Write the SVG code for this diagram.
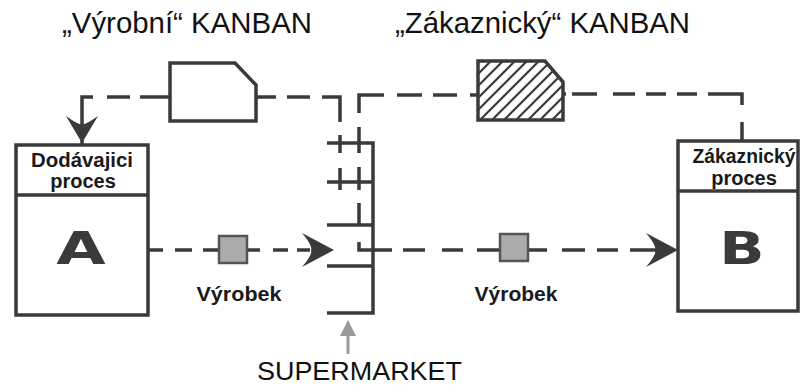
<svg xmlns="http://www.w3.org/2000/svg" width="801" height="387" viewBox="0 0 801 387">
<style>
.ln{fill:none;stroke:#3a3a3a;stroke-width:3.5;stroke-linecap:butt}
.box{fill:#fff;stroke:#3a3a3a;stroke-width:3.5}
.kb{stroke:#3a3a3a;stroke-width:3.5}
.ah{fill:#3a3a3a}
.ttl{font-family:"Liberation Sans",Arial,sans-serif;font-size:29px;fill:#111}
.hd{font-family:"Liberation Sans",Arial,sans-serif;font-size:20px;font-weight:bold;fill:#1a1a1a;text-anchor:middle}
.big{font-family:"DejaVu Sans",sans-serif;font-size:44px;font-weight:bold;fill:#3a3a3a;text-anchor:middle}
.lbl{font-family:"Liberation Sans",Arial,sans-serif;font-size:20px;font-weight:bold;fill:#1a1a1a;text-anchor:middle}
.sq{fill:#ababab;stroke:#555;stroke-width:2.5}
</style>
<defs>
<pattern id="hatch" patternUnits="userSpaceOnUse" width="12" height="12">
<path d="M0,12 L12,0 M-3,3 L3,-3 M9,15 L15,9" stroke="#3a3a3a" stroke-width="2.2"/>
</pattern>
</defs>
<rect width="801" height="387" fill="#fff"/>

<g id="title-vyrobni"><text class="ttl" x="62" y="33" textLength="250" lengthAdjust="spacingAndGlyphs">„Výrobní“ KANBAN</text></g>
<g id="title-zakaznicky"><text class="ttl" x="395" y="33" textLength="295" lengthAdjust="spacingAndGlyphs">„Zákaznický“ KANBAN</text></g>

<g id="connectors">
<path class="ln" d="M82,118 V97 H93 M107,97 H130 M140,97 H170"/>
<path class="ln" d="M256,97 H276 M287,97 H310 M322,97 H340 V122 M340,135 V153 M340,168 V190"/>
<path class="ln" d="M359,113 V95 H384 M397,95 H422 M433,95 H457 M470,95 H478"/>
<path class="ln" d="M359,127 V153 M359,167 V190 M359,203 V224 M359,242 V250 H392"/>
<path class="ln" d="M563,94 H566 M572,94 H597 M613,94 H635 M646,94 H666 M677,94 H697 M708,94 H742 V105 M742,122 V141"/>
<path class="ln" d="M148,250 H163 M175,250 H192 M203,250 H219 M247,250 H260 M273,250 H288 M297,250 H310"/>
<path class="ln" d="M403,250 H425 M442,250 H463 M477,250 H500 M528,250 H547 M562,250 H585 M597,250 H618 M630,250 H660"/>
<path class="ln" d="M82,118 V145"/>
<path class="ah" d="M82,143 L66,116 Q80,126 82,124 Q84,126 98,116 Z"/>
<path class="ah" d="M334,250 L302,233 Q313,246 311,250 Q313,254 302,267 Z"/>
<path class="ah" d="M678,250 L646,233 Q657,246 655,250 Q657,254 646,267 Z"/>
<path d="M348,354 V332" stroke="#9a9a9a" stroke-width="3" fill="none"/>
<path d="M348,320 L340,336 L356,336 Z" fill="#9a9a9a"/>
</g>

<g id="kanban-vyrobni">
<path class="kb" fill="#fff" d="M170,63 H235 L256,85 V121 H170 Z"/>
</g>
<g id="kanban-zakaznicky">
<path class="kb" fill="url(#hatch)" d="M478,61 H545 L563,82 V120 H478 Z"/>
</g>

<g id="supermarket">
<path class="ln" d="M327,143 H373 V313 H327 M327,182 H373 M327,225 H373 M327,266 H373"/>
</g>

<g id="proces-a">
<rect class="box" x="16" y="145" width="132" height="170"/>
<line class="ln" x1="16" y1="195" x2="148" y2="195"/>
<text class="hd" x="82" y="167" textLength="102" lengthAdjust="spacingAndGlyphs">Dodávajici</text>
<text class="hd" x="83" y="188">proces</text>
<text class="big" transform="translate(81,264) scale(1.45,1)" x="0" y="0">A</text>
</g>

<g id="proces-b">
<rect class="box" x="678" y="141" width="120" height="170"/>
<line class="ln" x1="678" y1="191" x2="798" y2="191"/>
<text class="hd" x="744" y="163" textLength="103" lengthAdjust="spacingAndGlyphs">Zákaznický</text>
<text class="hd" x="744" y="185">proces</text>
<text class="big" transform="translate(742,264) scale(1.35,1)" x="0" y="0">B</text>
</g>

<g id="vyrobek-1">
<rect class="sq" x="219" y="236" width="28" height="27"/>
<text class="lbl" x="239" y="301" textLength="85" lengthAdjust="spacingAndGlyphs">Výrobek</text>
</g>
<g id="vyrobek-2">
<rect class="sq" x="500" y="234" width="28" height="27"/>
<text class="lbl" x="516" y="301" textLength="83" lengthAdjust="spacingAndGlyphs">Výrobek</text>
</g>

<g id="label-supermarket">
<text class="ttl" x="257" y="380" style="font-size:26px" textLength="205" lengthAdjust="spacingAndGlyphs">SUPERMARKET</text>
</g>
</svg>
